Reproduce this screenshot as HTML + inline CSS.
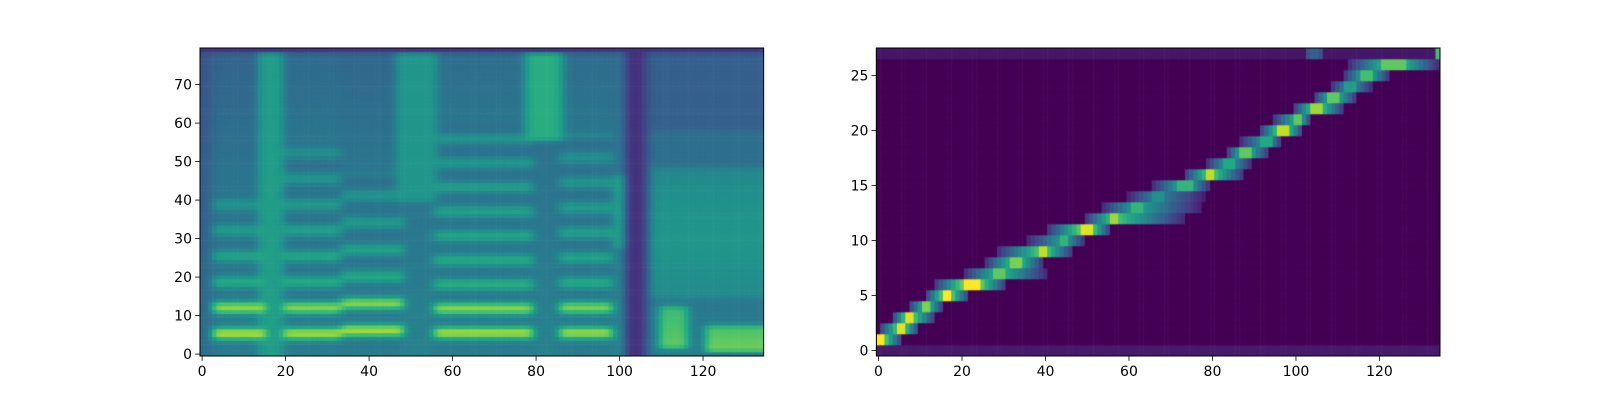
<!DOCTYPE html>
<html><head><meta charset="utf-8">
<style>
html,body{margin:0;padding:0;background:#fff;}
#wrap{position:relative;width:1600px;height:400px;overflow:hidden;}
canvas,svg{position:absolute;left:0;top:0;}
text{font-family:"DejaVu Sans","Liberation Sans",sans-serif;font-size:14px;fill:#000;}
</style></head>
<body>
<div id="wrap">
<canvas id="cv" width="1600" height="400"></canvas>
<svg id="sv" width="1600" height="400"></svg>
</div>
<script>
// ---- layout ----
const N_FRAMES = 135, N_MELS = 80, N_ENC = 28;
const L = {x0:200, x1:763.6, y0:48, y1:356};
const R = {x0:876.4, x1:1440, y0:48, y1:356};

// ---- spectrogram data ----
const voicedStart   = [3, 20, 34, 56, 86];
const voicedEnd     = [15, 33, 48, 79, 98];
const voicedSpacing = [6.7, 6.7, 7.0, 6.3, 6.5];
const voicedFirst   = [5.4, 5.4, 6.2, 5.6, 5.6];
const voicedTop     = [38, 50, 44, 56, 54];
const voicedGain    = [0.97, 0.95, 0.95, 0.95, 0.93];
const fricStart = [14, 47, 78, 99];
const fricEnd   = [19, 56, 86, 101];
const fricLo    = [0, 40, 56, 28];
const fricHi    = [79, 79, 79, 46];
const fricLevel = [0.55, 0.52, 0.62, 0.55];
const baseStart = [0, 3, 99, 102, 108];
const baseEnd   = [2, 98, 101, 106, 134];
const baseLevel = [0.36, 0.44, 0.45, 0.14, 0.42];
const lowStart = [110, 121];
const lowEnd   = [116, 134];
const lowLo    = [2, 1];
const lowHi    = [12, 7];
const lowLevel = [0.75, 0.78];

// ---- alignment data ----
const alignRow       = [1,2,3,4,5,6,7,8,9,10,11,12,13,14,15,16,17,18,19,20,21,22,23,24,25,26];
const alignStart     = [0,1,4,8,12,14,21,26,29,36,41,50,54,60,66,74,79,84,87,92,95,100,105,109,112,113];
const alignPeakStart = [0,5,7,11,16,21,28,32,39,44,49,56,61,66,72,79,83,87,92,96,100,104,108,112,116,121];
const alignPeakEnd   = [1,6,8,12,17,24,30,34,40,45,51,57,63,68,75,80,85,89,94,98,101,106,110,114,118,126];
const alignEnd       = [5,9,13,15,21,30,40,39,46,49,55,73,77,78,79,87,89,93,96,101,103,111,114,118,122,134];
const alignMax       = [1.0,0.95,0.95,0.8,1.0,1.0,0.75,0.8,0.9,0.65,0.95,0.85,0.65,0.5,0.65,0.9,0.6,0.75,0.6,0.9,0.75,0.85,0.75,0.55,0.7,0.75];
const edgeRowFrames  = [103,104,105,106,134];
const edgeRowValues  = [0.25,0.3,0.3,0.25,0.7];

const xTicksL = [0,20,40,60,80,100,120];
const yTicksL = [0,10,20,30,40,50,60,70];
const xTicksR = [0,20,40,60,80,100,120];
const yTicksR = [0,5,10,15,20,25];

// ---- viridis ----
const VIR = ["#440154","#482475","#414487","#355f8d","#2a788e","#21918c","#22a884","#44bf70","#7ad151","#bddf26","#fde725"].map(h=>[parseInt(h.substr(1,2),16),parseInt(h.substr(3,2),16),parseInt(h.substr(5,2),16)]);
function viridis(v){
  v=Math.max(0,Math.min(1,v));const p=v*10,i=Math.min(9,Math.floor(p)),t=p-i;
  const a=VIR[i],b=VIR[i+1];
  return `rgb(${Math.round(a[0]+(b[0]-a[0])*t)},${Math.round(a[1]+(b[1]-a[1])*t)},${Math.round(a[2]+(b[2]-a[2])*t)})`;
}

function sx(ax,f,n){return ax.x0+(f+0.5)*(ax.x1-ax.x0)/n;}
function sy(ax,b,m){return ax.y1-(b+0.5)*(ax.y1-ax.y0)/m;}

function specValue(f,b){
  let v=0.4;
  for(let i=0;i<baseStart.length;i++) if(f>=baseStart[i]&&f<=baseEnd[i]) v=baseLevel[i];
  if(f<102||f>106) v -= 0.1*(b/80);
  for(let i=0;i<voicedStart.length;i++){
    if(f<voicedStart[i]||f>voicedEnd[i]) continue;
    if(b<=voicedTop[i]+3){
      const sp=voicedSpacing[i];
      const h=Math.max(0,Math.round((b-voicedFirst[i])/sp));
      const c=voicedFirst[i]+h*sp, d=b-c;
      const peak=(h===0?voicedGain[i]:h===1?voicedGain[i]-0.06:voicedGain[i]-0.22-0.2*(c/voicedTop[i]));
      const trough=0.36+0.04*(1-b/60);
      v=trough+(peak-trough)*Math.exp(-(d*d)/(2*1.0*1.0));
      if(b<2) v=0.42;
    } else v=0.4-0.08*(b-voicedTop[i])/40;
  }
  for(let i=0;i<fricStart.length;i++){
    if(f>=fricStart[i]&&f<=fricEnd[i]&&b>=fricLo[i]&&b<=fricHi[i]){
      v=Math.max(v,fricLevel[i]);
    }
  }
  if(f>=108){ if(b>58) v=0.3; else if(b>48) v=0.36; else if(b>=15) v=0.47+0.05*Math.sin((b-15)/10); }
  for(let i=0;i<lowStart.length;i++){
    if(f>=lowStart[i]&&f<=lowEnd[i]&&b>=lowLo[i]&&b<=lowHi[i]) v=lowLevel[i]-0.08*(b-lowLo[i])/(lowHi[i]-lowLo[i]+1);
  }
  if(b===79) v=Math.min(v,0.16);
  return v;
}

function alignValue(f,r){
  if(r===0) return 0.07;
  if(r===N_ENC-1){const k=edgeRowFrames.indexOf(f);return k>=0?edgeRowValues[k]:0.06;}
  const i=alignRow.indexOf(r); if(i<0) return 0;
  if(f<alignStart[i]||f>alignEnd[i]) return 0;
  if(f>=alignPeakStart[i]&&f<=alignPeakEnd[i]) return alignMax[i];
  if(f<alignPeakStart[i]) return alignMax[i]*(0.1+0.75*(f-alignStart[i]+1)/(alignPeakStart[i]-alignStart[i]+1));
  return alignMax[i]*(0.1+0.75*(alignEnd[i]-f+1)/(alignEnd[i]-alignPeakEnd[i]+1));
}

// build grid and soften edges in time
let grid=[];
for(let f=0;f<N_FRAMES;f++){grid.push([]);for(let b=0;b<N_MELS;b++)grid[f].push(specValue(f,b));}
function blurTime(g){const o=g.map(r=>r.slice());
  for(let f=0;f<N_FRAMES;f++)for(let b=0;b<N_MELS;b++){
    const a=g[Math.max(0,f-1)][b],c=g[Math.min(N_FRAMES-1,f+1)][b];o[f][b]=0.25*a+0.5*g[f][b]+0.25*c;}
  return o;}
function blurFreq(g){const o=g.map(r=>r.slice());
  for(let f=0;f<N_FRAMES;f++)for(let b=1;b<N_MELS-1;b++){o[f][b]=0.2*g[f][b-1]+0.6*g[f][b]+0.2*g[f][b+1];}
  return o;}
grid=blurFreq(blurTime(blurTime(grid)));

const ctx=document.getElementById('cv').getContext('2d');
const cwL=(L.x1-L.x0)/N_FRAMES, chL=(L.y1-L.y0)/N_MELS;
for(let f=0;f<N_FRAMES;f++)for(let b=0;b<N_MELS;b++){
  ctx.fillStyle=viridis(grid[f][b]);
  ctx.fillRect(sx(L,f,N_FRAMES)-cwL/2-0.3,sy(L,b,N_MELS)-chL/2-0.3,cwL+0.6,chL+0.6);
}
const cwR=(R.x1-R.x0)/N_FRAMES, chR=(R.y1-R.y0)/N_ENC;
for(let f=0;f<N_FRAMES;f++)for(let r=0;r<N_ENC;r++){
  ctx.fillStyle=viridis(alignValue(f,r));
  ctx.fillRect(sx(R,f,N_FRAMES)-cwR/2-0.3,sy(R,r,N_ENC)-chR/2-0.3,cwR+0.6,chR+0.6);
}
ctx.clearRect(0,0,1600,L.y0);ctx.clearRect(0,L.y1,1600,50);
ctx.clearRect(0,0,L.x0,400);ctx.clearRect(L.x1,0,R.x0-L.x1,400);ctx.clearRect(R.x1,0,200,400);

const NS='http://www.w3.org/2000/svg', sv=document.getElementById('sv');
function mk(tag,attrs,name){const e=document.createElementNS(NS,tag);for(const k in attrs)e.setAttribute(k,attrs[k]);
  
  
  sv.appendChild(e);return e;}
function axes(ax,nY,xt,yt,prefix){
  mk('rect',{x:ax.x0,y:ax.y0,width:ax.x1-ax.x0,height:ax.y1-ax.y0,fill:'none',stroke:'#000','stroke-width':1},prefix+'-frame');
  xt.forEach(t=>{const x=sx(ax,t,N_FRAMES);
    mk('line',{x1:x,x2:x,y1:ax.y1,y2:ax.y1+4.9,stroke:'#000','stroke-width':0.8},prefix+'-x-tick');
    const tx=mk('text',{x:x,y:ax.y1+20,'text-anchor':'middle'},prefix+'-x-tick-label');tx.textContent=t;});
  yt.forEach(t=>{const y=sy(ax,t,nY);
    mk('line',{x1:ax.x0-4.9,x2:ax.x0,y1:y,y2:y,stroke:'#000','stroke-width':0.8},prefix+'-y-tick');
    const tx=mk('text',{x:ax.x0-8,y:y+5,'text-anchor':'end'},prefix+'-y-tick-label');tx.textContent=t;});
}
axes(L,N_MELS,xTicksL,yTicksL,'spectrogram');
axes(R,N_ENC,xTicksR,yTicksR,'alignment');
</script>
</body></html>
